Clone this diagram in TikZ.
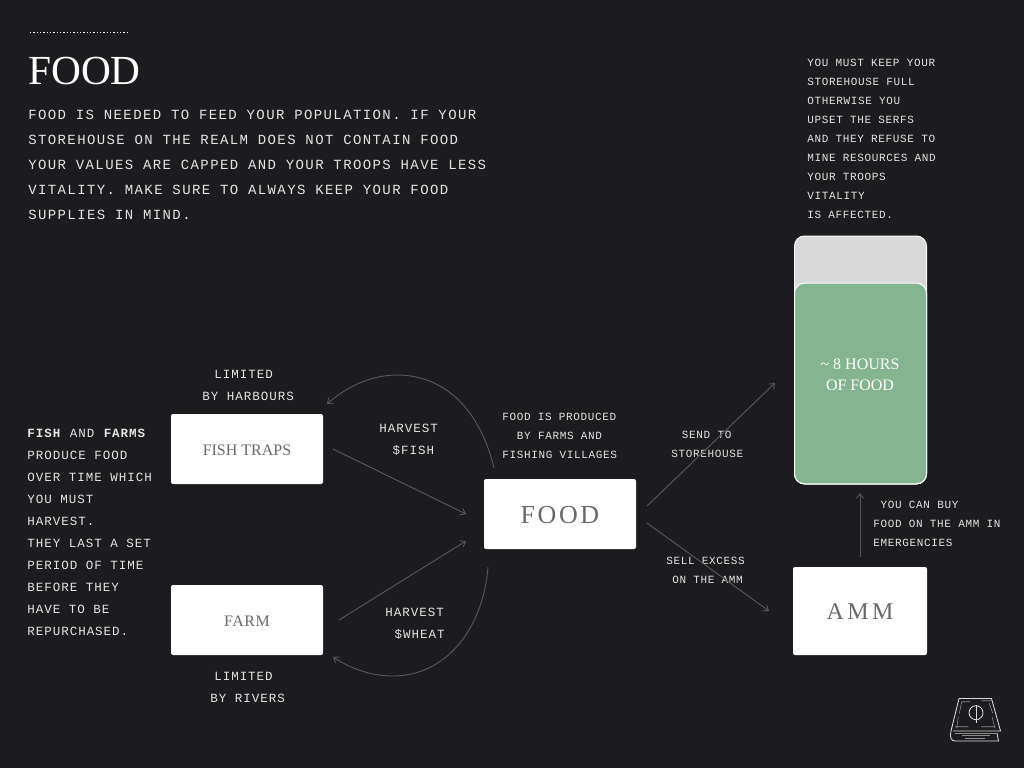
\documentclass[tikz,border=0pt]{standalone}
\usepackage{fontspec}
\usetikzlibrary{arrows.meta}
\setmainfont{Liberation Serif}
\newfontfamily\monobig[LetterSpace=10.0]{Liberation Mono}
\newfontfamily\monomid[LetterSpace=7.8]{Liberation Mono}
\newfontfamily\monosmall[LetterSpace=5.9]{Liberation Mono}
\definecolor{pagebg}{HTML}{1C1C1E}
\definecolor{boxtext}{HTML}{6A6A6A}
\definecolor{linkgray}{HTML}{565658}
\definecolor{tankgray}{HTML}{D8D8D8}
\definecolor{tankgreen}{HTML}{84B490}
\definecolor{labeltext}{HTML}{E4E4E4}
\tikzset{
  bigtext/.style={anchor=north west, inner sep=0pt, align=left, text=labeltext,
    font=\fontsize{10.5pt}{18.75pt}\selectfont\monobig},
  midtext/.style={anchor=north west, inner sep=0pt, align=left, text=labeltext,
    font=\fontsize{9.4pt}{16.5pt}\selectfont\monomid},
  smalltext/.style={anchor=north west, inner sep=0pt, align=left, text=labeltext,
    font=\fontsize{8.25pt}{14.25pt}\selectfont\monosmall},
  whitebox/.style={draw=none, fill=white, rounded corners=1.5pt, inner sep=0pt,
    text=boxtext, minimum height=52.5pt, text depth=0pt},
  link/.style={draw=linkgray, line width=0.7pt, ->, >={Straight Barb[length=3.5pt,width=5.5pt]}},
  bookline/.style={draw=white!85!black, line width=0.65pt},
  bookthin/.style={draw=white!55!black, line width=0.45pt},
}
\begin{document}
\begin{tikzpicture}[x=0.75pt, y=-0.75pt]
    \fill[pagebg] (0,0) rectangle (1024,768);
    \useasboundingbox (0,0) rectangle (1024,768);

    % Heading
    \draw[white, line width=0.75pt, dash pattern=on 1.1pt off 1.4pt] (30,32) -- (128,32);
    \node[anchor=base west, inner sep=0pt, text=white, font=\fontsize{31pt}{31pt}\selectfont] (title) at (28,84) {FOOD};
    \node[bigtext] (intro) at (28,110) {FOOD IS NEEDED TO FEED YOUR POPULATION. IF YOUR\\
        STOREHOUSE ON THE REALM DOES NOT CONTAIN FOOD\\
        YOUR VALUES ARE CAPPED AND YOUR TROOPS HAVE LESS\\
        VITALITY. MAKE SURE TO ALWAYS KEEP YOUR FOOD\\
        SUPPLIES IN MIND.};

    % Boxes
    \node[whitebox, minimum width=114pt, text height=9.6pt, font=\fontsize{12pt}{12pt}\selectfont] (fishtraps) at (247,449) {FISH TRAPS};
    \node[whitebox, minimum width=114pt, text height=9.6pt, font=\fontsize{12pt}{12pt}\selectfont\addfontfeature{LetterSpace=3}] (farm) at (247,620) {FARM};
    \node[whitebox, minimum width=114pt, text height=14.7pt, font=\fontsize{19.5pt}{19.5pt}\selectfont\addfontfeature{LetterSpace=10}] (food) at (560,514) {FOOD};
    \node[whitebox, minimum width=100.5pt, minimum height=66pt, text height=13.4pt, font=\fontsize{18pt}{18pt}\selectfont\addfontfeature{LetterSpace=14}] (amm) at (860,611) {AMM};

    % Storehouse
    \node[draw=white, fill=tankgray, rounded corners=7.5pt, line width=0.75pt, minimum width=99pt, minimum height=186pt, inner sep=0pt] (tank) at (860.5,360) {};
    \node[draw=white, fill=tankgreen, rounded corners=7.5pt, line width=0.75pt, minimum width=99pt, minimum height=150.5pt, inner sep=0pt] (fill) at (860.5,383.5) {};
    \node[inner sep=0pt, align=center, text=white, font=\fontsize{12pt}{15.75pt}\selectfont] (filltext) at (860,374.5) {\textasciitilde{} 8 HOURS\\OF FOOD};

    % Labels
    \node[smalltext] (tanknote) at (807,58.5) {YOU MUST KEEP YOUR\\STOREHOUSE FULL\\OTHERWISE YOU\\UPSET THE SERFS\\
        AND THEY REFUSE TO\\MINE RESOURCES AND\\YOUR TROOPS\\VITALITY\\IS AFFECTED.};
    \node[midtext] (fishnote) at (27,429) {\textbf{FISH} AND \textbf{FARMS}\\PRODUCE FOOD\\OVER TIME WHICH\\YOU MUST\\HARVEST.\\
        THEY LAST A SET\\PERIOD OF TIME\\BEFORE THEY\\HAVE TO BE\\REPURCHASED.};
    \node[midtext] (harbours) at (202,370) {\hspace*{9pt}LIMITED\\BY HARBOURS};
    \node[midtext] (rivers) at (210,672) {\hspace*{3pt}LIMITED\\BY RIVERS};
    \node[midtext] (harvestfish) at (379,424) {HARVEST\\\hspace*{10pt}\$FISH};
    \node[midtext] (harvestwheat) at (385,608) {HARVEST\\\hspace*{7pt}\$WHEAT};
    \node[smalltext] (produced) at (502,413) {FOOD IS PRODUCED\\\hspace*{11pt}BY FARMS AND\\FISHING VILLAGES};
    \node[smalltext] (send) at (671,431) {\hspace*{8pt}SEND TO\\STOREHOUSE};
    \node[smalltext] (sell) at (666,557) {SELL EXCESS\\\hspace*{4.5pt}ON THE AMM};
    \node[smalltext] (buy) at (873,501) {\hspace*{5.5pt}YOU CAN BUY\\FOOD ON THE AMM IN\\EMERGENCIES};

    % Arrows
    \coordinate (fishout) at (333,449);
    \coordinate (fishin) at (466,514);
    \coordinate (farmout) at (339,620);
    \coordinate (farmin) at (466,541);
    \coordinate (foodup) at (647,506);
    \coordinate (tankin) at (775,383);
    \coordinate (fooddown) at (647,523);
    \coordinate (ammin) at (769,611);
    \coordinate (ammout) at (860,557);
    \coordinate (tankout) at (860,493);
    \draw[link] (fishout) -- (fishin);
    \draw[link] (farmout) -- (farmin);
    \draw[link] (foodup) -- (tankin);
    \draw[link] (fooddown) -- (ammin);
    \draw[link] (ammout) -- (tankout);

    % Curved arrows back to the boxes
    \coordinate (limitfish) at (494,468);
    \coordinate (limitfarm) at (488,567);
    \coordinate (fishtop) at (327,404);
    \coordinate (farmlow) at (333,657);
    \draw[link] (limitfish) .. controls (480,410) and (445,375) .. (397,375) .. controls (370,375) and (345,388) .. (fishtop);
    \draw[link] (limitfarm) .. controls (483,630) and (445,676) .. (393,676) .. controls (370,676) and (350,668) .. (farmlow);

    % Book
    \draw[bookline] (959,698.5) -- (991.5,698.5) -- (1000.5,731) -- (953,731);
    \draw[bookline] (959,698.5) -- (951,731) .. controls (949.5,737) and (951,741) .. (955,741) -- (998.5,741) -- (997,733);
    \draw[bookline] (976,712.7) circle (7);
    \draw[bookline] (976,705) -- (976,723.3);
    \draw[bookthin] (961.7,701.7) -- (970,701.7) (961.7,701.7) -- (959.3,713.3);
    \draw[bookthin] (981.7,700.7) -- (991.7,700.7) (989.3,703.3) -- (992.7,713.3);
    \draw[bookthin] (955,726.7) -- (968.3,726.7) (958.3,716.7) -- (956.7,728.3);
    \draw[bookthin] (981,726.7) -- (995,726.7) (992,716.7) -- (995,728.3);
    \draw[bookthin] (955,733) -- (998,733) (961.7,735.7) -- (990,735.7) (965,738.4) -- (985,738.4);
\end{tikzpicture}
\end{document}
